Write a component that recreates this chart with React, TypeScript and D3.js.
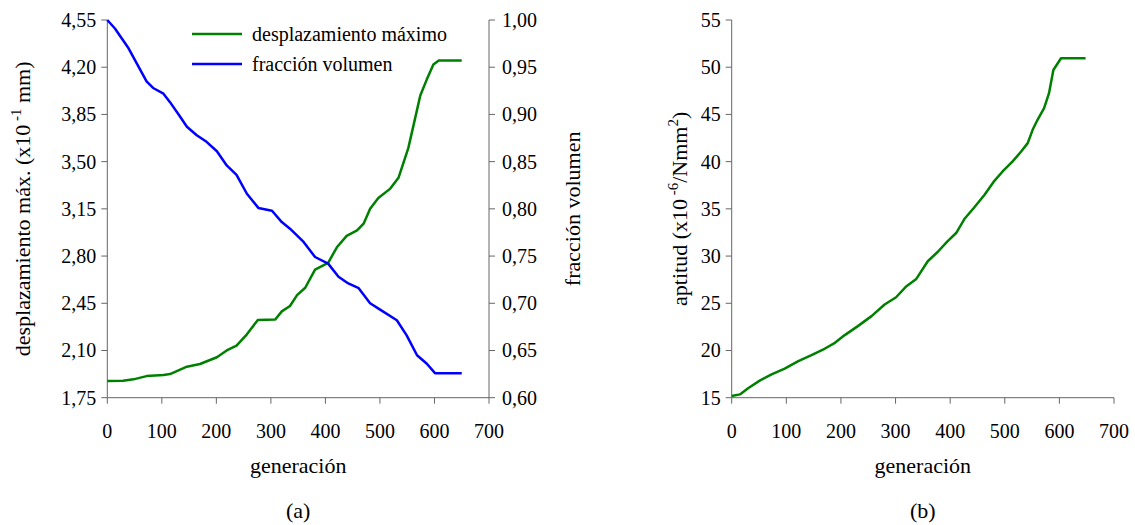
import React from 'react';
import * as d3 from 'd3';

// (a) desplazamiento máximo (x10^-1 mm) vs generación
const dispGen = [0, 29, 48, 72, 103, 115, 146, 170, 201, 219, 237, 256, 276, 308, 320, 335, 348, 363, 381, 405, 421, 439, 458, 470, 482, 497, 519, 534, 552, 565, 574, 586, 598, 608, 650];
const dispVal = [1.874, 1.876, 1.886, 1.91, 1.918, 1.925, 1.98, 2.0, 2.05, 2.1, 2.136, 2.22, 2.326, 2.33, 2.39, 2.43, 2.51, 2.565, 2.7, 2.75, 2.865, 2.95, 2.99, 3.04, 3.15, 3.23, 3.3, 3.38, 3.6, 3.83, 3.99, 4.11, 4.22, 4.25, 4.25];

// (a) fracción volumen vs generación
const fracGen = [0, 14, 39, 54, 72, 84, 103, 115, 133, 146, 164, 182, 201, 219, 237, 256, 277, 302, 320, 335, 360, 381, 405, 424, 442, 461, 482, 501, 531, 549, 568, 586, 601, 650];
const fracVal = [1.0, 0.991, 0.97, 0.954, 0.935, 0.928, 0.922, 0.913, 0.898, 0.887, 0.878, 0.871, 0.861, 0.846, 0.836, 0.816, 0.801, 0.798, 0.786, 0.779, 0.765, 0.749, 0.742, 0.728, 0.721, 0.716, 0.7, 0.693, 0.682, 0.666, 0.645, 0.636, 0.626, 0.626];

// (b) aptitud (x10^-6/Nmm^2) vs generación
const aptGen = [0, 15, 30, 52, 73, 97, 122, 146, 170, 189, 207, 231, 256, 280, 301, 320, 338, 359, 377, 395, 411, 426, 444, 463, 481, 496, 514, 530, 542, 551, 560, 572, 581, 589, 603, 648];
const aptVal = [15.18, 15.35, 16.0, 16.83, 17.47, 18.07, 18.88, 19.51, 20.18, 20.81, 21.63, 22.58, 23.64, 24.87, 25.64, 26.81, 27.58, 29.45, 30.43, 31.56, 32.44, 33.92, 35.15, 36.5, 37.97, 38.96, 40.0, 41.08, 41.96, 43.37, 44.43, 45.66, 47.25, 49.7, 50.95, 50.95];

const genTicks = [0, 100, 200, 300, 400, 500, 600, 700];
const dispTicks = [1.75, 2.1, 2.45, 2.8, 3.15, 3.5, 3.85, 4.2, 4.55];
const fracTicks = [0.6, 0.65, 0.7, 0.75, 0.8, 0.85, 0.9, 0.95, 1.0];
const aptTicks = [15, 20, 25, 30, 35, 40, 45, 50, 55];

const legendItems = [
  { label: 'desplazamiento máximo', color: '#008000' },
  { label: 'fracción volumen', color: '#0000ff' },
];

const AXIS = '#666';
const TICK = 6;
const TXT = { fontFamily: 'Liberation Serif' };

const comma = (f: (n: number) => string) => (n: number) => f(n).replace('.', ',');

function pts(xs: number[], ys: number[]) {
  return xs.map((x, i) => [x, ys[i]] as [number, number]);
}

export default function App() {
  const top = 20, bottom = 397.7;

  // panel (a)
  const xa = d3.scaleLinear().domain([0, 700]).range([107.3, 489]);
  const yDisp = d3.scaleLinear().domain([1.75, 4.55]).range([bottom, top]);
  const yFrac = d3.scaleLinear().domain([0.6, 1.0]).range([bottom, top]);

  // panel (b)
  const xb = d3.scaleLinear().domain([0, 700]).range([731.7, 1114]);
  const yApt = d3.scaleLinear().domain([15, 55]).range([bottom, top]);

  const lineDisp = d3.line<[number, number]>().x(d => xa(d[0])).y(d => yDisp(d[1]));
  const lineFrac = d3.line<[number, number]>().x(d => xa(d[0])).y(d => yFrac(d[1]));
  const lineApt = d3.line<[number, number]>().x(d => xb(d[0])).y(d => yApt(d[1]));

  const fmt2 = comma(d3.format('.2f'));

  const xAxis = (x: d3.ScaleLinear<number, number>) => (
    <g>
      <line x1={x.range()[0]} x2={x.range()[1]} y1={bottom} y2={bottom} stroke={AXIS} />
      {genTicks.map(t => (
        <g key={t}>
          <line x1={x(t)} x2={x(t)} y1={bottom} y2={bottom + TICK} stroke={AXIS} />
          <text x={x(t)} y={bottom + 40} textAnchor="middle" fontSize={20} style={TXT}>{t}</text>
        </g>
      ))}
    </g>
  );

  const leftAxis = (x0: number, y: d3.ScaleLinear<number, number>, ticks: number[], f: (n: number) => string) => (
    <g>
      <line x1={x0} x2={x0} y1={top} y2={bottom} stroke={AXIS} />
      {ticks.map(t => (
        <g key={t}>
          <line x1={x0 - TICK} x2={x0} y1={y(t)} y2={y(t)} stroke={AXIS} />
          <text x={x0 - 11} y={y(t)} dy="0.35em" textAnchor="end" fontSize={20} style={TXT}>{f(t)}</text>
        </g>
      ))}
    </g>
  );

  const rightAxis = (x0: number, y: d3.ScaleLinear<number, number>, ticks: number[], f: (n: number) => string) => (
    <g>
      <line x1={x0} x2={x0} y1={top} y2={bottom} stroke={AXIS} />
      {ticks.map(t => (
        <g key={t}>
          <line x1={x0} x2={x0 + TICK} y1={y(t)} y2={y(t)} stroke={AXIS} />
          <text x={x0 + 13} y={y(t)} dy="0.35em" textAnchor="start" fontSize={20} style={TXT}>{f(t)}</text>
        </g>
      ))}
    </g>
  );

  const midY = (top + bottom) / 2;

  return (
    <svg width={1135} height={525} style={{ position: 'absolute', left: 0, top: 0, background: '#fff' }}>
      {/* panel (a) */}
      {xAxis(xa)}
      {leftAxis(xa.range()[0], yDisp, dispTicks, fmt2)}
      {rightAxis(xa.range()[1], yFrac, fracTicks, fmt2)}
      <path d={lineDisp(pts(dispGen, dispVal)) || ''} fill="none" stroke="#008000" strokeWidth={2.5} strokeLinejoin="round" />
      <path d={lineFrac(pts(fracGen, fracVal)) || ''} fill="none" stroke="#0000ff" strokeWidth={2.5} strokeLinejoin="round" />

      {legendItems.map((d, i) => (
        <g key={d.label} transform={`translate(192,${34 + i * 30})`}>
          <line x1={0} x2={50} y1={0} y2={0} stroke={d.color} strokeWidth={2.5} />
          <text x={60} y={0} dy="0.33em" fontSize={20} style={TXT}>{d.label}</text>
        </g>
      ))}

      <text transform={`translate(30,${midY}) rotate(-90)`} textAnchor="middle" fontSize={22} style={TXT}>
        desplazamiento máx. (x10<tspan dy={-9} fontSize={15}> -1</tspan><tspan dy={9}> mm)</tspan>
      </text>
      <text transform={`translate(580,${midY}) rotate(-90)`} textAnchor="middle" fontSize={22} style={TXT}>fracción volumen</text>
      <text x={(xa.range()[0] + xa.range()[1]) / 2} y={473} textAnchor="middle" fontSize={22} style={TXT}>generación</text>
      <text x={(xa.range()[0] + xa.range()[1]) / 2} y={518} textAnchor="middle" fontSize={22} style={TXT}>(a)</text>

      {/* panel (b) */}
      {xAxis(xb)}
      {leftAxis(xb.range()[0], yApt, aptTicks, d3.format('d'))}
      <path d={lineApt(pts(aptGen, aptVal)) || ''} fill="none" stroke="#008000" strokeWidth={2.5} strokeLinejoin="round" />

      <text transform={`translate(687,${midY}) rotate(-90)`} textAnchor="middle" fontSize={22} style={TXT}>
        aptitud (x10<tspan dy={-9} fontSize={15}> -6</tspan><tspan dy={9}>/Nmm</tspan><tspan dy={-9} fontSize={15}>2</tspan><tspan dy={9}>)</tspan>
      </text>
      <text x={(xb.range()[0] + xb.range()[1]) / 2} y={473} textAnchor="middle" fontSize={22} style={TXT}>generación</text>
      <text x={(xb.range()[0] + xb.range()[1]) / 2} y={518} textAnchor="middle" fontSize={22} style={TXT}>(b)</text>
    </svg>
  );
}
